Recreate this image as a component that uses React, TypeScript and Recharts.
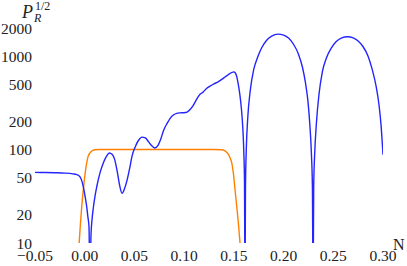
import React from "react";
import { LineChart, Line, XAxis, YAxis } from "recharts";

const blueN = [
  -0.05, -0.04, -0.03, -0.02, -0.012, -0.008, -0.0047, -0.003, -0.0014, 0.0003,
  0.002, 0.0032, 0.0043, 0.0053, 0.0063, 0.0072, 0.0087, 0.0104, 0.0121, 0.0155,
  0.0187, 0.022, 0.0247, 0.0275, 0.03, 0.0325, 0.035, 0.0375, 0.04, 0.0426,
  0.0452, 0.0476, 0.051, 0.054, 0.0575, 0.061, 0.064, 0.067, 0.0705, 0.0735,
  0.0765, 0.0795, 0.083, 0.0865, 0.0895, 0.0925, 0.096, 0.0995, 0.103, 0.106,
  0.109, 0.1125, 0.116, 0.119, 0.1225, 0.126, 0.13, 0.1341, 0.1375, 0.1411,
  0.1445, 0.1482, 0.15, 0.1515, 0.153, 0.154, 0.155, 0.156, 0.1575, 0.159,
  0.16, 0.1607, 0.1612, 0.1617, 0.1625, 0.164, 0.1665, 0.17, 0.174, 0.178,
  0.183, 0.188, 0.1945, 0.2, 0.205, 0.21, 0.215, 0.219, 0.222, 0.2245,
  0.2265, 0.228, 0.229, 0.2297, 0.2303, 0.2313, 0.233, 0.2355, 0.239, 0.243,
  0.248, 0.253, 0.258, 0.2645, 0.27, 0.275, 0.28, 0.285, 0.289, 0.293,
  0.296, 0.298, 0.3,
];
const blueP = [
  57, 56.8, 56.5, 56, 55, 54, 51, 46.5, 40, 32,
  24.5, 19, 15, 3, 12, 17, 24, 32, 40, 57,
  72, 85, 92, 89, 79, 60, 42, 34, 38, 47,
  63, 85, 108, 125, 136, 133, 122, 111, 104, 110,
  130, 162, 192, 220, 236, 244, 247, 248, 252, 268,
  295, 345, 390, 412, 450, 477, 505, 530, 560, 597,
  635, 670, 678, 660, 600, 530, 460, 390, 280, 170,
  95, 45, 3, 40, 100, 220, 430, 720, 980, 1230,
  1480, 1640, 1720, 1680, 1560, 1340, 1050, 760, 520, 330,
  180, 90, 40, 3, 40, 90, 190, 380, 680, 950,
  1220, 1430, 1560, 1610, 1570, 1450, 1260, 1000, 730, 480,
  300, 185, 88,
];

const orangeN = [
  -0.006, -0.0045, -0.003, -0.0007, 0.002, 0.0035, 0.0053, 0.0075, 0.0104, 0.015,
  0.13, 0.1378, 0.141, 0.1445, 0.1465, 0.1479, 0.1495, 0.1512, 0.153, 0.1545,
  0.1562, 0.1575,
];
const orangeP = [
  8.5, 15, 24.5, 44, 72, 85, 92, 97, 99.5, 100,
  100, 99.5, 97, 89, 80, 72, 56, 37, 24, 16.5,
  10, 7,
];

const xTicks = [-0.05, 0, 0.05, 0.1, 0.15, 0.2, 0.25, 0.3];
const yTicks = [10, 20, 50, 100, 200, 500, 1000, 2000];

const blueData = blueN.map((n, i) => ({ N: n, P: blueP[i] }));
const orangeData = orangeN.map((n, i) => ({ N: n, P: orangeP[i] }));

const serif = "Liberation Serif";

const fmtX = (v: number) => {
  const s = Math.abs(v).toFixed(2);
  return v < -1e-9 ? "\u2212" + s : s;
};

const AxisTitles = () => (
  <g>
    <text x={22} y={18} style={{ fontFamily: serif, fontStyle: "italic", fontSize: 18 }} fill="#222">P</text>
    <text x={34} y={22} style={{ fontFamily: serif, fontStyle: "italic", fontSize: 12 }} fill="#222">R</text>
    <text x={35} y={10} style={{ fontFamily: serif, fontSize: 12 }} fill="#222">1/2</text>
    <text x={393} y={250} style={{ fontFamily: serif, fontSize: 16 }} fill="#222">N</text>
  </g>
);

const tickStyle = { fontFamily: serif, fontSize: 15.5 };

export default function App() {
  return (
    <div style={{ position: "absolute", left: 0, top: 0, width: 407, height: 266, fontFamily: serif }}>
      <LineChart width={407} height={266} margin={{ top: 28, right: 24, bottom: 0, left: 0 }}>
        <XAxis
          dataKey="N"
          type="number"
          domain={[-0.05, 0.3]}
          ticks={xTicks}
          interval={0}
          allowDataOverflow
          axisLine={false}
          tickLine={false}
          tickSize={0}
          tickMargin={7}
          height={23}
          tickFormatter={fmtX}
          tick={{ style: tickStyle, fill: "#222" }}
        />
        <YAxis
          dataKey="P"
          type="number"
          scale="log"
          domain={[10, 2000]}
          ticks={yTicks}
          interval={0}
          allowDataOverflow
          axisLine={false}
          tickLine={false}
          tickSize={0}
          tickMargin={3}
          width={35}
          tick={{ style: tickStyle, fill: "#222" }}
          label={{ content: () => <AxisTitles /> }}
        />
        <Line
          data={orangeData}
          dataKey="P"
          type="monotone"
          stroke="#ff8000"
          strokeWidth={1.4}
          dot={false}
          isAnimationActive={false}
        />
        <Line
          data={blueData}
          dataKey="P"
          type="monotone"
          stroke="#2424ff"
          strokeWidth={1.4}
          dot={false}
          isAnimationActive={false}
        />
      </LineChart>
    </div>
  );
}
